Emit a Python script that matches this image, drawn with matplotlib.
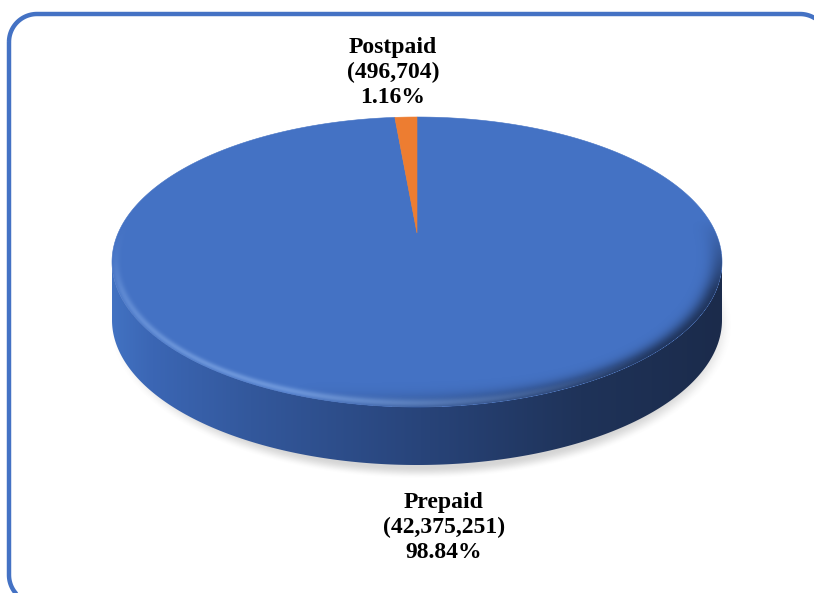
import numpy as np
import matplotlib
matplotlib.use("Agg")
import matplotlib.pyplot as plt
from matplotlib.patches import Polygon, Ellipse
from matplotlib.colors import to_rgb

labels = ["Prepaid", "Postpaid"]
subscribers = [42375251, 496704]
colors = ["#4472C4", "#ED7D31"]

W, H = 814, 593
cx, cy = 417, 262          # centre of the top face ellipse (pixels)
rx, ry = 305, 145
depth = 58                 # thickness of the disc
tip = (417, 233)           # wedge apex, sits above cy because of perspective


def rim(phi, dy=0.0):
    phi = np.radians(phi)
    return np.column_stack([cx + rx * np.cos(phi), cy + dy - ry * np.sin(phi)])


def rounded_rect(x0, y0, x1, y1, rad, n=30):
    # y grows downward here, corners traced clockwise on screen
    pts = []
    for (ccx, ccy, a0) in [(x0 + rad, y0 + rad, 180), (x1 - rad, y0 + rad, 270),
                           (x1 - rad, y1 - rad, 0), (x0 + rad, y1 - rad, 90)]:
        a = np.radians(np.linspace(a0, a0 + 90, n))
        pts.append(np.column_stack([ccx + rad * np.cos(a), ccy + rad * np.sin(a)]))
    return np.vstack(pts)


fig = plt.figure(figsize=(W / 100, H / 100), dpi=100)
ax = fig.add_axes([0, 0, 1, 1])
ax.set_xlim(0, W); ax.set_ylim(H, 0); ax.axis("off")

# soft drop shadow under the disc
gx, gy = np.meshgrid(np.arange(W) + 0.5, np.arange(H) + 0.5)
rs = np.hypot((gx - cx - 4) / (rx + 7), (gy - cy - depth - 5) / (ry + 9))
t = np.clip((1.0 - rs) / 0.08, 0, 1)
sh = np.zeros((H, W, 4)); sh[..., :3] = 0.45
sh[..., 3] = 0.30 * t * t * (3 - 2 * t)
ax.imshow(sh, extent=[0, W, H, 0], zorder=1, interpolation="bilinear")

# side wall: horizontal light-to-dark gradient, clipped to the front band
front = np.linspace(180, 360, 240)
side = Polygon(np.vstack([rim(front), rim(front[::-1], depth)]), closed=True,
               fc="none", ec="none", transform=ax.transData)
ax.add_patch(side)
sx = np.arange(cx - rx - 2, cx + rx + 2)
stops_x = [cx - rx, cx - rx + 40, 250, 420, 580, cx + rx]
stops_c = [to_rgb(c) for c in ["#4272c2", "#3b66b4", "#33589c", "#28447a", "#1f3359", "#1b2b4b"]]
row = np.column_stack([np.interp(sx, stops_x, [c[i] for c in stops_c]) for i in range(3)])
sy = np.arange(int(cy) - 5, int(cy + ry + depth) + 5)
wall = np.repeat(row[None, :, :], len(sy), axis=0)
im = ax.imshow(wall, extent=[sx[0], sx[-1] + 1, sy[-1] + 1, sy[0]], zorder=2,
               interpolation="bilinear")
im.set_clip_path(side)

# top face wedges, clockwise from 12 o'clock
total = sum(subscribers)
start = 90.0
for val, col in zip(subscribers, colors):
    sweep = val / total * 360
    arc = rim(np.linspace(start, start - sweep, max(4, int(sweep * 2))))
    ax.add_patch(Polygon(np.vstack([tip, arc]), closed=True, fc=col, ec=col,
                         lw=0.4, zorder=3))
    start -= sweep

# rounded bevel along the rim: highlight front-left, shade on the right
top = Ellipse((cx, cy), 2 * rx, 2 * ry, fc="none", ec="none", transform=ax.transData)
ax.add_patch(top)
ux = (gx - cx) / rx; uy = (cy - gy) / ry
r = np.hypot(ux, uy); psi = np.arctan2(uy, ux)
d = (1 - r) * np.hypot(rx * np.cos(psi), ry * np.sin(psi))
frontw = np.clip(-np.sin(psi) * 2 + 0.6, 0, 1)
glow = np.exp(-((d - 4) / 4.0) ** 2) * (d > 0)
hl = np.clip(np.cos(psi - np.radians(235)), 0, 1) ** 1.5 * 0.45 * frontw
dk = np.clip(np.cos(psi - np.radians(335)), 0, 1) * 0.75 * frontw
lite = np.zeros((H, W, 4)); lite[..., :3] = to_rgb("#9cc0f4"); lite[..., 3] = hl * glow
dark = np.zeros((H, W, 4)); dark[..., :3] = to_rgb("#15223d")
dark[..., 3] = dk * np.exp(-(d / 12.0) ** 2) * (d > 0)
for ov in (dark, lite):
    o = ax.imshow(ov, extent=[0, W, H, 0], zorder=4, interpolation="bilinear")
    o.set_clip_path(top)

# data labels
lab_pos = {"Prepaid": (444, 492), "Postpaid": (393, 37)}
for lab, val in zip(labels, subscribers):
    x, y = lab_pos[lab]
    ax.text(x, y, f"{lab}\n({val:,})\n{val / total * 100:.2f}%", ha="center", va="top",
            family="Liberation Serif", fontweight="bold", fontsize=17,
            linespacing=1.25, color="black", zorder=6)

# chart frame
ax.add_patch(Polygon(rounded_rect(9, 14, 828, 603, 28), closed=True, fc="none",
                     ec="#4472C4", lw=3.2, zorder=7))

fig.savefig("out.png", dpi=100, facecolor="white")
